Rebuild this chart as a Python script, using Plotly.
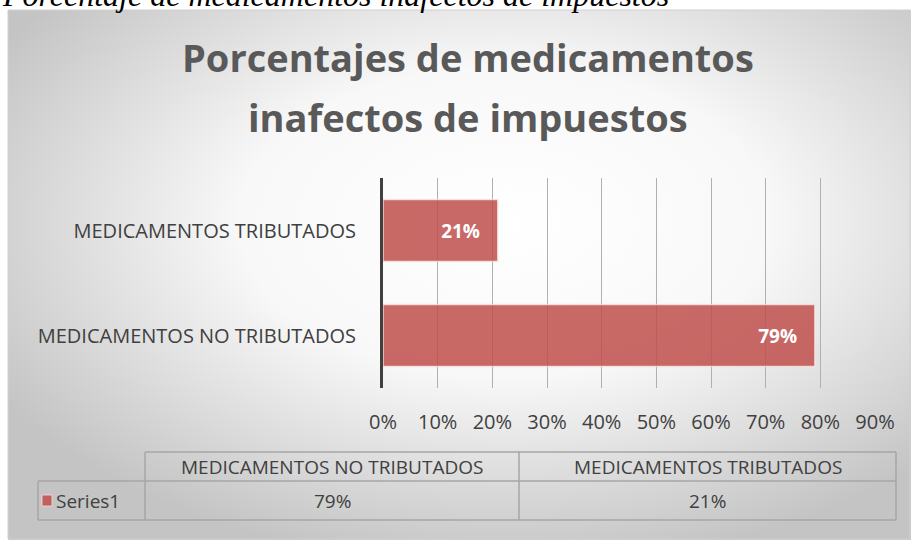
import base64
import plotly.graph_objects as go

# ── Data ──────────────────────────────────────────────────────────────────────
categories = ["MEDICAMENTOS NO TRIBUTADOS", "MEDICAMENTOS TRIBUTADOS"]
values = [0.79, 0.21]
series_name = "Series1"
x_ticks = [0, 0.1, 0.2, 0.3, 0.4, 0.5, 0.6, 0.7, 0.8, 0.9]
title_lines = ["Porcentajes de medicamentos", "inafectos de impuestos"]
caption = "Porcentaje de medicamentos inafectos de impuestos"

W, H = 911, 540
FONT = "Open Sans"
TXT = "#404040"
BAR = "#c0504d"


def px(x):
    return x / W


def py(y):
    return 1 - y / H


# ── Background gradient (chart area) ──────────────────────────────────────────
svg = (
    '<svg xmlns="http://www.w3.org/2000/svg" width="903" height="530" '
    'preserveAspectRatio="none">'
    '<defs><radialGradient id="g" cx="55%" cy="40%" r="65%">'
    '<stop offset="0%" stop-color="#ffffff"/>'
    '<stop offset="45%" stop-color="#f8f8f8"/>'
    '<stop offset="100%" stop-color="#c4c4c4"/>'
    '</radialGradient></defs>'
    '<rect width="903" height="530" fill="url(#g)"/></svg>'
)
bg_src = "data:image/svg+xml;base64," + base64.b64encode(svg.encode()).decode()

fig = go.Figure()

fig.add_trace(go.Bar(
    x=values,
    y=categories,
    orientation="h",
    width=0.59,
    marker=dict(color=BAR, opacity=0.85,
                line=dict(color="rgba(255,230,230,0.8)", width=1.5)),
    texttemplate="<b>%{x:.0%}</b>\u00a0\u00a0\u00a0",
    textposition="inside",
    insidetextanchor="end",
    textfont=dict(color="white", size=19, family=FONT),
    hoverinfo="skip",
))

# ── Data table (below plot) ───────────────────────────────────────────────────
L, C1, C2, R = 38, 145, 519, 896
T, M, B = 452, 481, 520
line = dict(color="#a6a6a6", width=1.5)


def seg(x0, y0, x1, y1):
    return dict(type="line", xref="paper", yref="paper",
                x0=px(x0), x1=px(x1), y0=py(y0), y1=py(y1), line=line)


shapes = [
    dict(type="rect", xref="paper", yref="paper", x0=px(8), x1=px(910),
         y0=py(10), y1=py(539), line=dict(color="#d0d0d0", width=1),
         fillcolor="rgba(0,0,0,0)", layer="above"),
    seg(C1, T, R, T), seg(L, M, R, M), seg(L, B, R, B),
    seg(L, M, L, B), seg(C1, T, C1, B), seg(C2, T, C2, B), seg(R, T, R, B),
    # legend key
    dict(type="rect", xref="paper", yref="paper", x0=px(42), x1=px(52),
         y0=py(495), y1=py(506), fillcolor=BAR, opacity=0.85,
         line=dict(color="rgba(255,230,230,0.8)", width=1)),
]

annotations = [
    dict(text=f"<i>{caption}</i>", x=px(0), y=py(15), xref="paper", yref="paper",
         xanchor="left", yanchor="bottom", showarrow=False,
         font=dict(family="Liberation Serif", size=32, color="black")),
    dict(text=series_name, x=px(54), y=py(500.5), xref="paper", yref="paper",
         xanchor="left", yanchor="middle", showarrow=False,
         font=dict(family=FONT, size=19, color=TXT)),
]
for ty, t in zip([57, 117], title_lines):
    annotations.append(dict(text=f"<b>{t}</b>", x=px(468), y=py(ty),
                            xref="paper", yref="paper", xanchor="center",
                            yanchor="middle", showarrow=False,
                            font=dict(family=FONT, size=38, color="#595959")))
col_centers = [(C1 + C2) / 2, (C2 + R) / 2]
for cx, cat, v in zip(col_centers, categories, values):
    annotations.append(dict(text=cat, x=px(cx), y=py(466.5), xref="paper", yref="paper",
                            xanchor="center", yanchor="middle", showarrow=False,
                            font=dict(family=FONT, size=19, color=TXT)))
    annotations.append(dict(text=f"{v:.0%}", x=px(cx), y=py(500.5), xref="paper", yref="paper",
                            xanchor="center", yanchor="middle", showarrow=False,
                            font=dict(family=FONT, size=19, color=TXT)))

fig.update_layout(
    width=W, height=H, autosize=False,
    margin=dict(l=0, r=0, t=0, b=0, pad=0, autoexpand=False),
    paper_bgcolor="white",
    plot_bgcolor="rgba(0,0,0,0)",
    showlegend=False,
    xaxis=dict(
        domain=[px(383), px(875)],
        range=[0, 0.9],
        tickvals=x_ticks,
        tickformat=".0%",
        showgrid=True, gridcolor="#b0b0b0", gridwidth=1,
        zeroline=False, showline=False, ticks="",
        ticklabelstandoff=20,
        tickfont=dict(family=FONT, size=20, color=TXT),
        automargin=False,
        fixedrange=True,
    ),
    yaxis=dict(
        domain=[py(388), py(178)],
        showline=True, linecolor="#404040", linewidth=3,
        showgrid=False, ticks="",
        ticklabelstandoff=20,
        tickfont=dict(family=FONT, size=20, color=TXT),
        automargin=False,
        fixedrange=True,
    ),
    shapes=shapes,
    annotations=annotations,
    images=[dict(source=bg_src, xref="paper", yref="paper",
                 x=px(8), y=py(10), sizex=px(903), sizey=530 / H,
                 xanchor="left", yanchor="top", sizing="stretch", layer="below")],
)

fig.write_html(
    "out.html",
    config={"responsive": False, "displayModeBar": False},
    post_script="document.body.style.margin='0';document.body.style.overflow='hidden';",
)
